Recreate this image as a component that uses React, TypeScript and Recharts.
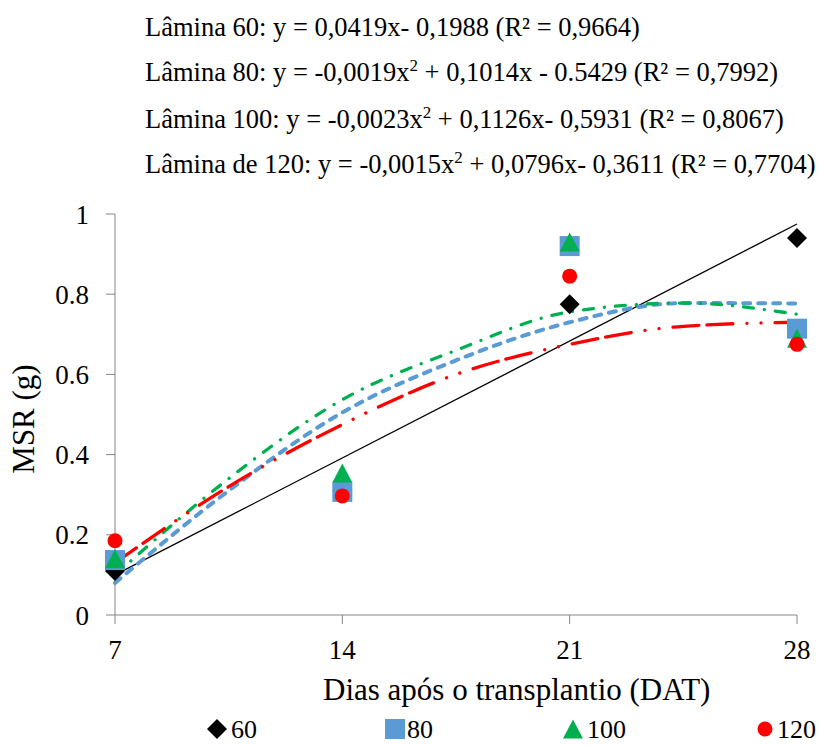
import React from "react";
import { ComposedChart, Scatter, Line, XAxis, YAxis } from "recharts";

const days = [7, 14, 21, 28];
const msr60 = [0.11, 0.31, 0.775, 0.94];
const msr80 = [0.137, 0.307, 0.92, 0.714];
const msr100 = [0.14, 0.354, 0.93, 0.69];
const msr120 = [0.185, 0.297, 0.845, 0.675];

// trendline values
const trend60Days = [7, 28];
const trend60 = [0.1, 0.975];
const trendDays = [7, 10.5, 14, 17.5, 21, 24.5, 28];
const trend80 = [0.08, 0.31, 0.505, 0.635, 0.73, 0.778, 0.777];
const trend100 = [0.1, 0.34, 0.537, 0.66, 0.756, 0.778, 0.75];
const trend120 = [0.13, 0.32, 0.475, 0.6, 0.675, 0.72, 0.73];

const xTicks = [7, 14, 21, 28];
const yTicks = [0, 0.2, 0.4, 0.6, 0.8, 1];

const FONT = '"Liberation Serif", "Times New Roman", serif';
const AXIS = "#868686";
const C60 = "#000000";
const C80 = "#5b9bd5";
const C100 = "#00b050";
const C120 = "#ff0000";

const toPoints = (xs: number[], ys: number[]) => xs.map((x, i) => ({ x, y: ys[i] }));

const Diamond = ({ cx, cy }: any) => (
  <polygon points={`${cx},${cy - 10} ${cx + 10},${cy} ${cx},${cy + 10} ${cx - 10},${cy}`} fill={C60} />
);
const Square = ({ cx, cy }: any) => <rect x={cx - 10} y={cy - 10} width={20} height={20} fill={C80} />;
const Triangle = ({ cx, cy }: any) => (
  <polygon points={`${cx},${cy - 9.5} ${cx + 10},${cy + 9.5} ${cx - 10},${cy + 9.5}`} fill={C100} />
);
const Dot = ({ cx, cy }: any) => <circle cx={cx} cy={cy} r={7.5} fill={C120} />;

export default function App() {
  const tickStyle = { fill: "#000", fontSize: 27, fontFamily: FONT };
  return (
    <div
      style={{
        position: "absolute",
        left: 0,
        top: 0,
        width: 822,
        height: 745,
        background: "#fff",
        fontFamily: FONT,
        overflow: "hidden",
      }}
    >
      <ComposedChart
        width={822}
        height={745}
        margin={{ top: 214, right: 25, bottom: 90, left: 55 }}
        style={{ fontFamily: FONT }}
      >
        <XAxis
          type="number"
          dataKey="x"
          domain={[7, 28]}
          ticks={xTicks}
          height={40}
          tickSize={9}
          tickMargin={16}
          stroke={AXIS}
          tick={tickStyle}
        />
        <YAxis
          type="number"
          dataKey="y"
          domain={[0, 1]}
          ticks={yTicks}
          width={60}
          tickSize={9}
          tickMargin={17}
          stroke={AXIS}
          tick={tickStyle}
        />
        <Scatter data={toPoints(days, msr60)} dataKey="y" shape={Diamond} isAnimationActive={false} />
        <Scatter data={toPoints(days, msr80)} dataKey="y" shape={Square} isAnimationActive={false} />
        <Scatter data={toPoints(days, msr100)} dataKey="y" shape={Triangle} isAnimationActive={false} />
        <Scatter data={toPoints(days, msr120)} dataKey="y" shape={Dot} isAnimationActive={false} />
        <Line
          data={toPoints(trend60Days, trend60)}
          dataKey="y"
          type="linear"
          stroke={C60}
          strokeWidth={1.3}
          dot={false}
          activeDot={false}
          isAnimationActive={false}
        />
        <Line
          data={toPoints(trendDays, trend80)}
          dataKey="y"
          type="monotone"
          stroke={C80}
          strokeWidth={4}
          strokeDasharray="7 8"
          strokeLinecap="round"
          dot={false}
          activeDot={false}
          isAnimationActive={false}
        />
        <Line
          data={toPoints(trendDays, trend100)}
          dataKey="y"
          type="monotone"
          stroke={C100}
          strokeWidth={3.3}
          strokeDasharray="10 11 0.1 11"
          strokeLinecap="round"
          dot={false}
          activeDot={false}
          isAnimationActive={false}
        />
        <Line
          data={toPoints(trendDays, trend120)}
          dataKey="y"
          type="monotone"
          stroke={C120}
          strokeWidth={3.3}
          strokeDasharray="26 8 26 14 0.1 14 0.1 14"
          strokeLinecap="round"
          dot={false}
          activeDot={false}
          isAnimationActive={false}
        />
      </ComposedChart>

      <svg
        width={822}
        height={745}
        style={{ position: "absolute", left: 0, top: 0, pointerEvents: "none", fontFamily: FONT }}
      >
        {/* regression equations */}
        <g fontSize={26.5} fill="#000" fontFamily={FONT}>
          <text x={145} y={36}>Lâmina 60: y = 0,0419x- 0,1988 (R² = 0,9664)</text>
          <text x={145} y={81}>
            Lâmina 80: y = -0,0019x
            <tspan dy={-10} fontSize={17}>2</tspan>
            <tspan dy={10}>{" + 0,1014x - 0.5429 (R² = 0,7992)"}</tspan>
          </text>
          <text x={145} y={128}>
            Lâmina 100: y = -0,0023x
            <tspan dy={-10} fontSize={17}>2</tspan>
            <tspan dy={10}>{" + 0,1126x- 0,5931 (R² = 0,8067)"}</tspan>
          </text>
          <text x={145} y={173}>
            Lâmina de 120: y = -0,0015x
            <tspan dy={-10} fontSize={17}>2</tspan>
            <tspan dy={10}>{" + 0,0796x- 0,3611 (R² = 0,7704)"}</tspan>
          </text>
        </g>

        {/* axis titles */}
        <text x={323} y={700} fontSize={31} fontFamily={FONT}>
          Dias após o transplantio (DAT)
        </text>
        <text
          transform="translate(34,419) rotate(-90)"
          textAnchor="middle"
          fontSize={31}
          fontFamily={FONT}
        >
          MSR (g)
        </text>

        {/* legend */}
        <g fontSize={26} fontFamily={FONT}>
          <Diamond cx={217} cy={729} />
          <text x={231} y={738}>60</text>
          <Square cx={395} cy={729} />
          <text x={407} y={738}>80</text>
          <Triangle cx={573} cy={729} />
          <text x={587} y={738}>100</text>
          <Dot cx={765} cy={729} />
          <text x={777} y={738}>120</text>
        </g>
      </svg>
    </div>
  );
}
